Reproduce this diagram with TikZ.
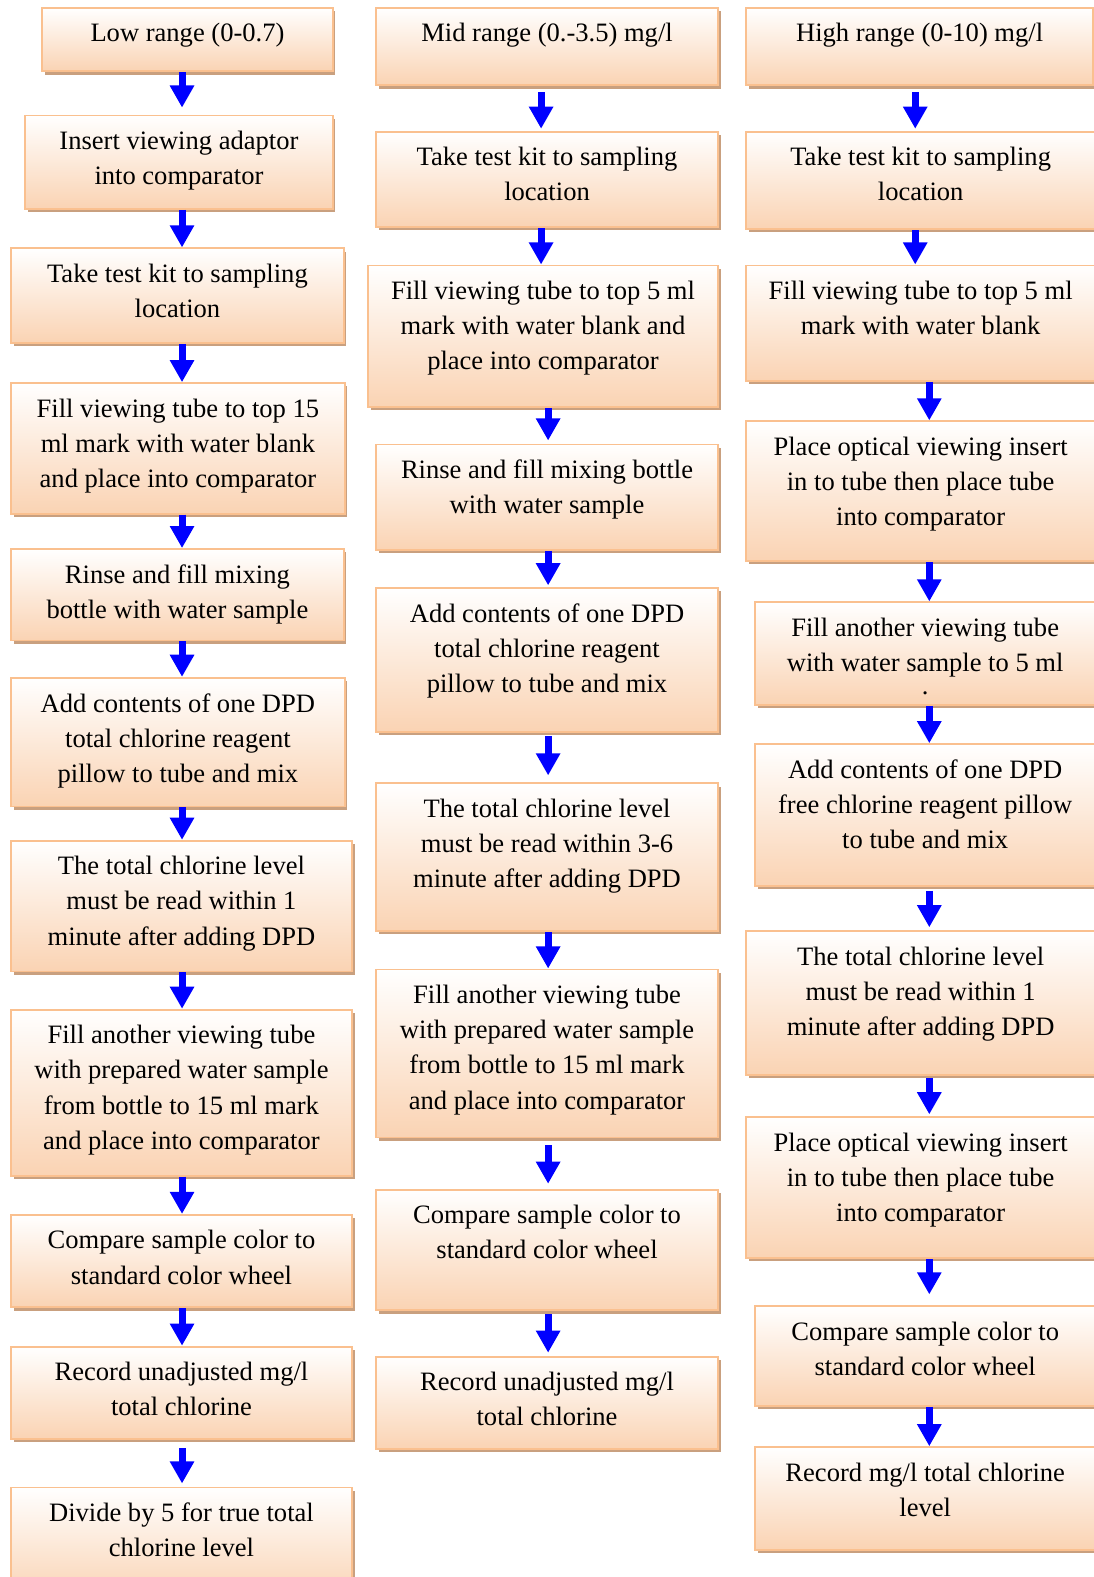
\documentclass[tikz,border=0pt]{standalone}
\usepackage{fontspec}
\setmainfont{Liberation Serif}
\usepackage{tikz}
\usetikzlibrary{arrows.meta, shadows}

\definecolor{boxline}{HTML}{FAC08F}
\definecolor{boxfill}{HTML}{FAD3B3}
\definecolor{boxshade}{HTML}{C9A07F}
\newcommand{\pxu}{0.5pt}

\begin{document}
\begin{tikzpicture}[x=\pxu, y=-\pxu]
\tikzset{box/.style={rectangle, draw=boxline, line width=0.9pt, top color=white, bottom color=boxfill, inner sep=0pt, anchor=north west,
			drop shadow={shadow xshift=1.3pt, shadow yshift=-1.6pt, fill=boxshade, opacity=1}},
		txt/.style={align=center, inner sep=0pt, anchor=north, font=\fontsize{13.2}{17.5}\selectfont},
		flow/.style={draw=blue, line width=3.5pt, -{Triangle[width=11.5pt,length=11pt]}}}
\path[fill=white, use as bounding box] (0,0) rectangle (1087,1568);

% low range
\node[box, minimum width=289*\pxu, minimum height=63*\pxu] (l1) at (41,7) {};
\node[txt] (l1t) at ([yshift=-8pt]l1.north) {Low range (0-0.7)};
\node[box, minimum width=306*\pxu, minimum height=93*\pxu] (l2) at (24,114) {};
\node[txt] (l2t) at ([yshift=-8pt]l2.north) {Insert viewing adaptor\\into comparator};
\node[box, minimum width=331*\pxu, minimum height=94*\pxu] (l3) at (10,246) {};
\node[txt] (l3t) at ([yshift=-8pt]l3.north) {Take test kit to sampling\\location};
\node[box, minimum width=332*\pxu, minimum height=130*\pxu] (l4) at (10,380) {};
\node[txt] (l4t) at ([yshift=-8pt]l4.north) {Fill viewing tube to top 15\\ml mark with water blank\\and place into comparator};
\node[box, minimum width=331*\pxu, minimum height=91*\pxu] (l5) at (10,545) {};
\node[txt] (l5t) at ([yshift=-8pt]l5.north) {Rinse and fill mixing\\bottle with water sample};
\node[box, minimum width=332*\pxu, minimum height=128*\pxu] (l6) at (10,673) {};
\node[txt] (l6t) at ([yshift=-8pt]l6.north) {Add contents of one DPD\\total chlorine reagent\\pillow to tube and mix};
\node[box, minimum width=339*\pxu, minimum height=130*\pxu] (l7) at (10,835) {};
\node[txt] (l7t) at ([yshift=-8pt]l7.north) {The total chlorine level\\must be read within 1\\minute after adding DPD};
\node[box, minimum width=339*\pxu, minimum height=165*\pxu] (l8) at (10,1003) {};
\node[txt] (l8t) at ([yshift=-8pt]l8.north) {Fill another viewing tube\\with prepared water sample\\from bottle to 15 ml mark\\and place into comparator};
\node[box, minimum width=339*\pxu, minimum height=92*\pxu] (l9) at (10,1207) {};
\node[txt] (l9t) at ([yshift=-8pt]l9.north) {Compare sample color to\\standard color wheel};
\node[box, minimum width=339*\pxu, minimum height=92*\pxu] (l10) at (10,1338) {};
\node[txt] (l10t) at ([yshift=-8pt]l10.north) {Record unadjusted mg/l\\total chlorine};
\node[box, minimum width=339*\pxu, minimum height=112*\pxu] (l11) at (10,1478) {};
\node[txt] (l11t) at ([yshift=-8pt]l11.north) {Divide by 5 for true total\\chlorine level};

% mid range
\node[box, minimum width=340*\pxu, minimum height=77*\pxu] (m1) at (373,7) {};
\node[txt] (m1t) at ([yshift=-8pt]m1.north) {Mid range (0.-3.5) mg/l};
\node[box, minimum width=340*\pxu, minimum height=95*\pxu] (m2) at (373,130) {};
\node[txt] (m2t) at ([yshift=-8pt]m2.north) {Take test kit to sampling\\location};
\node[box, minimum width=348*\pxu, minimum height=141*\pxu] (m3) at (365,263) {};
\node[txt] (m3t) at ([yshift=-8pt]m3.north) {Fill viewing tube to top 5 ml\\mark with water blank and\\place into comparator};
\node[box, minimum width=340*\pxu, minimum height=105*\pxu] (m4) at (373,441) {};
\node[txt] (m4t) at ([yshift=-8pt]m4.north) {Rinse and fill mixing bottle\\with water sample};
\node[box, minimum width=340*\pxu, minimum height=143*\pxu] (m5) at (373,584) {};
\node[txt] (m5t) at ([yshift=-8pt]m5.north) {Add contents of one DPD\\total chlorine reagent\\pillow to tube and mix};
\node[box, minimum width=340*\pxu, minimum height=147*\pxu] (m6) at (373,778) {};
\node[txt] (m6t) at ([yshift=-8pt]m6.north) {The total chlorine level\\must be read within 3-6\\minute after adding DPD};
\node[box, minimum width=340*\pxu, minimum height=167*\pxu] (m7) at (373,963) {};
\node[txt] (m7t) at ([yshift=-8pt]m7.north) {Fill another viewing tube\\with prepared water sample\\from bottle to 15 ml mark\\and place into comparator};
\node[box, minimum width=340*\pxu, minimum height=120*\pxu] (m8) at (373,1182) {};
\node[txt] (m8t) at ([yshift=-8pt]m8.north) {Compare sample color to\\standard color wheel};
\node[box, minimum width=340*\pxu, minimum height=92*\pxu] (m9) at (373,1348) {};
\node[txt] (m9t) at ([yshift=-8pt]m9.north) {Record unadjusted mg/l\\total chlorine};

% high range
\node[box, minimum width=345*\pxu, minimum height=77*\pxu] (h1) at (741,7) {};
\node[txt] (h1t) at ([yshift=-8pt]h1.north) {High range (0-10) mg/l};
\node[box, minimum width=347*\pxu, minimum height=97*\pxu] (h2) at (741,130) {};
\node[txt] (h2t) at ([yshift=-8pt]h2.north) {Take test kit to sampling\\location};
\node[box, minimum width=347*\pxu, minimum height=115*\pxu] (h3) at (741,263) {};
\node[txt] (h3t) at ([yshift=-8pt]h3.north) {Fill viewing tube to top 5 ml\\mark with water blank};
\node[box, minimum width=347*\pxu, minimum height=139*\pxu] (h4) at (741,418) {};
\node[txt] (h4t) at ([yshift=-8pt]h4.north) {Place optical viewing insert\\in to tube then place tube\\into comparator};
\node[box, minimum width=338*\pxu, minimum height=102*\pxu] (h5) at (750,598) {};
\node[txt] (h5t) at ([yshift=-8pt]h5.north) {Fill another viewing tube\\with water sample to 5 ml\\\raisebox{6pt}{.}};
\node[box, minimum width=338*\pxu, minimum height=141*\pxu] (h6) at (750,739) {};
\node[txt] (h6t) at ([yshift=-8pt]h6.north) {Add contents of one DPD\\free chlorine reagent pillow\\to tube and mix};
\node[box, minimum width=347*\pxu, minimum height=143*\pxu] (h7) at (741,925) {};
\node[txt] (h7t) at ([yshift=-8pt]h7.north) {The total chlorine level\\must be read within 1\\minute after adding DPD};
\node[box, minimum width=347*\pxu, minimum height=140*\pxu] (h8) at (741,1110) {};
\node[txt] (h8t) at ([yshift=-8pt]h8.north) {Place optical viewing insert\\in to tube then place tube\\into comparator};
\node[box, minimum width=338*\pxu, minimum height=99*\pxu] (h9) at (750,1298) {};
\node[txt] (h9t) at ([yshift=-8pt]h9.north) {Compare sample color to\\standard color wheel};
\node[box, minimum width=338*\pxu, minimum height=102*\pxu] (h10) at (750,1438) {};
\node[txt] (h10t) at ([yshift=-8pt]h10.north) {Record mg/l total chlorine\\level};

% arrow columns
\coordinate (ax1) at (181,0);
\coordinate (ax2a) at (538,0);
\coordinate (ax2) at (545,0);
\coordinate (ax3a) at (910,0);
\coordinate (ax3) at (924,0);

\draw[flow, shorten >=3.5pt] (l1.south -| ax1) -- (l2.north -| ax1);
\draw[flow] (l2.south -| ax1) -- (l3.north -| ax1);
\draw[flow] (l3.south -| ax1) -- (l4.north -| ax1);
\draw[flow] (l4.south -| ax1) -- (l5.north -| ax1);
\draw[flow] (l5.south -| ax1) -- (l6.north -| ax1);
\draw[flow] (l6.south -| ax1) -- (l7.north -| ax1);
\draw[flow] (l7.south -| ax1) -- (l8.north -| ax1);
\draw[flow] (l8.south -| ax1) -- (l9.north -| ax1);
\draw[flow] (l9.south -| ax1) -- (l10.north -| ax1);
\draw[flow, shorten <=4pt, shorten >=1.5pt] (l10.south -| ax1) -- (l11.north -| ax1);

\draw[flow, shorten <=3pt, shorten >=1pt] (m1.south -| ax2a) -- (m2.north -| ax2a);
\draw[flow] (m2.south -| ax2a) -- (m3.north -| ax2a);
\draw[flow, shorten >=1.5pt] (m3.south -| ax2) -- (m4.north -| ax2);
\draw[flow, shorten >=1pt] (m4.south -| ax2) -- (m5.north -| ax2);
\draw[flow, shorten <=1.5pt, shorten >=3.5pt] (m5.south -| ax2) -- (m6.north -| ax2);
\draw[flow] (m6.south -| ax2) -- (m7.north -| ax2);
\draw[flow, shorten <=3.5pt, shorten >=2.5pt] (m7.south -| ax2) -- (m8.north -| ax2);
\draw[flow, shorten <=1.5pt, shorten >=1.5pt] (m8.south -| ax2) -- (m9.north -| ax2);

\draw[flow, shorten <=3pt, shorten >=1pt] (h1.south -| ax3a) -- (h2.north -| ax3a);
\draw[flow] (h2.south -| ax3a) -- (h3.north -| ax3a);
\draw[flow] (h3.south -| ax3) -- (h4.north -| ax3);
\draw[flow] (h4.south -| ax3) -- (h5.north -| ax3);
\draw[flow] (h5.south -| ax3) -- (h6.north -| ax3);
\draw[flow, shorten <=2pt, shorten >=1.5pt] (h6.south -| ax3) -- (h7.north -| ax3);
\draw[flow, shorten <=1pt, shorten >=1pt] (h7.south -| ax3) -- (h8.north -| ax3);
\draw[flow, shorten >=5.5pt] (h8.south -| ax3) -- (h9.north -| ax3);
\draw[flow] (h9.south -| ax3) -- (h10.north -| ax3);
\end{tikzpicture}
\end{document}
